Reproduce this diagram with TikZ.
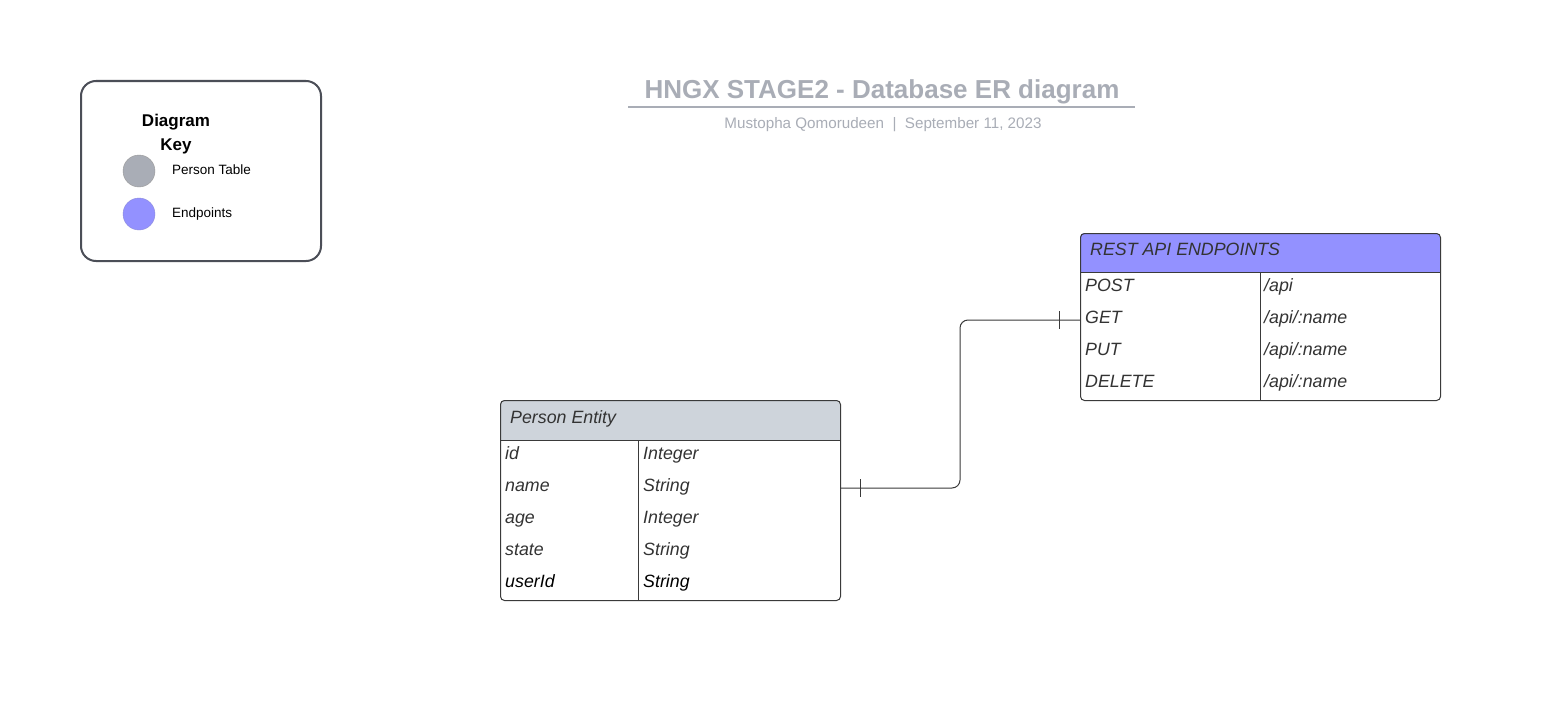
\documentclass[tikz,border=0pt]{standalone}
\usepackage{fontspec}
\setmainfont{Liberation Sans}
\definecolor{titlegray}{HTML}{A9ADB6}
\definecolor{keyborder}{HTML}{4B4E57}
\definecolor{persongray}{HTML}{A9ADB6}
\definecolor{endblue}{HTML}{9391FF}
\definecolor{headgray}{HTML}{CED4DB}
\definecolor{txt}{HTML}{333333}
\definecolor{line}{HTML}{3A3A3A}
\tikzset{
  tabletxt/.style={anchor=west, inner sep=0pt, text height=14.5, text depth=3.5, text=txt, font=\fontsize{17.8}{20}\selectfont\itshape},
  keytxt/.style={anchor=west, inner sep=0pt, text height=12, text depth=3, font=\fontsize{13.5}{15}\selectfont},
  tabbox/.style={draw=line, line width=1, rounded corners=4, anchor=north west, inner sep=0pt},
}
\begin{document}
\begin{tikzpicture}[x=1pt,y=-1pt]
\useasboundingbox[fill=white] (0,0) rectangle (1558,701);

% title
\node[inner sep=0pt, text=titlegray, text height=23, text depth=5, font=\fontsize{26}{30}\selectfont\bfseries] (title) at (882,89) {HNGX STAGE2 - Database ER diagram};
\draw[titlegray, line width=2] (628,107) -- (1135,107);
\node[inner sep=0pt, text=titlegray, text height=13, text depth=3, font=\fontsize{15.2}{17}\selectfont] (sub) at (883,123) {Mustopha Qomorudeen \ \textbar\ \ September 11, 2023};

% key
\node[draw=keyborder, line width=2, rounded corners=15, minimum width=240, minimum height=180, anchor=north west, inner sep=0pt] (key) at (80,80) {};
\node[inner sep=0pt, align=center, font=\fontsize{17}{24}\selectfont\bfseries] (keytitle) at (176,134) {Diagram\\ Key};
\node[circle, fill=persongray, draw=gray!80, minimum size=32, inner sep=0pt] (c1) at (139,171) {};
\node[circle, fill=endblue, draw=endblue!70!gray, minimum size=32, inner sep=0pt] (c2) at (139,214) {};
\node[keytxt] (k1) at (172,170) {Person Table};
\node[keytxt] (k2) at (172,213) {Endpoints};

% endpoints table
\fill[endblue, rounded corners=4] (1080,233) rectangle (1440,272);
\fill[endblue] (1080,255) rectangle (1440,272);
\node[tabbox, minimum width=360, minimum height=167] (ep) at (1080,233) {};
\draw[line] (1080,272) -- (1440,272);
\draw[line] (1260,272) -- (1260,400);
\node[tabletxt] (eph) at (1090,250) {REST API ENDPOINTS};
\node[tabletxt] (e1a) at (1085,286) {POST};
\node[tabletxt] (e1b) at (1264,286) {/api};
\node[tabletxt] (e2a) at (1085,318) {GET};
\node[tabletxt] (e2b) at (1264,318) {/api/:name};
\node[tabletxt] (e3a) at (1085,350) {PUT};
\node[tabletxt] (e3b) at (1264,350) {/api/:name};
\node[tabletxt] (e4a) at (1085,382) {DELETE};
\node[tabletxt] (e4b) at (1264,382) {/api/:name};

% person table
\fill[headgray, rounded corners=4] (500,400) rectangle (840,440);
\fill[headgray] (500,422) rectangle (840,440);
\node[tabbox, minimum width=340, minimum height=200] (pe) at (500,400) {};
\draw[line] (500,440) -- (840,440);
\draw[line] (638,440) -- (638,600);
\node[tabletxt] (peh) at (510,418) {Person Entity};
\node[tabletxt] (p1a) at (505,454) {id};
\node[tabletxt] (p1b) at (643,454) {Integer};
\node[tabletxt] (p2a) at (505,486) {name};
\node[tabletxt] (p2b) at (643,486) {String};
\node[tabletxt] (p3a) at (505,518) {age};
\node[tabletxt] (p3b) at (643,518) {Integer};
\node[tabletxt] (p4a) at (505,550) {state};
\node[tabletxt] (p4b) at (643,550) {String};
\node[tabletxt, text=black] (p5a) at (505,582) {userId};
\node[tabletxt, text=black] (p5b) at (643,582) {String};

% connector
\coordinate (pname) at (840,488);
\coordinate (epget) at (1080,320);
\draw[line, line width=1, rounded corners=8] (pname) -- ++(120,0) |- (epget);
\draw[line, line width=1] ([xshift=20]pname) ++(0,-9) -- ++(0,18);
\draw[line, line width=1] ([xshift=-21]epget) ++(0,-9) -- ++(0,18);
\end{tikzpicture}
\end{document}
